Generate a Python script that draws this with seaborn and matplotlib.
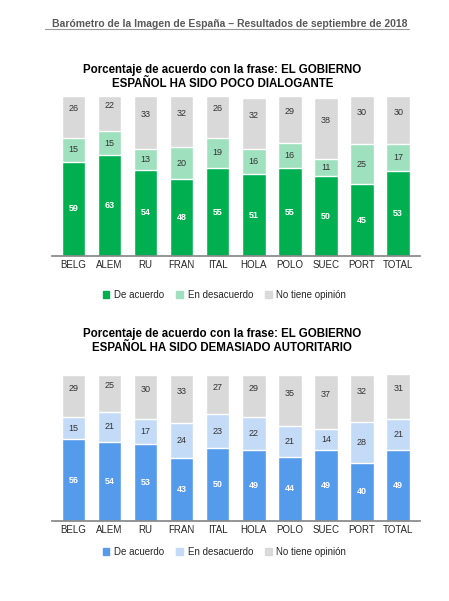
import numpy as np
import pandas as pd
import matplotlib
matplotlib.use('Agg')
import matplotlib.pyplot as plt
import seaborn as sns
from matplotlib.patches import Patch

paises = ['BELG', 'ALEM', 'RU', 'FRAN', 'ITAL', 'HOLA', 'POLO', 'SUEC', 'PORT', 'TOTAL']

# Poco dialogante
acuerdo1 = [59, 63, 54, 48, 55, 51, 55, 50, 45, 53]
desacuerdo1 = [15, 15, 13, 20, 19, 16, 16, 11, 25, 17]
opinion1 = [26, 22, 33, 32, 26, 32, 29, 38, 30, 30]

# Demasiado autoritario
acuerdo2 = [56, 54, 53, 43, 50, 49, 44, 49, 40, 49]
desacuerdo2 = [15, 21, 17, 24, 23, 22, 21, 14, 28, 21]
opinion2 = [29, 25, 30, 33, 27, 29, 35, 37, 32, 31]

leyenda = ['De acuerdo', 'En desacuerdo', 'No tiene opinión']

sns.set_theme(style='white')
plt.rcParams['font.family'] = ['Liberation Sans', 'DejaVu Sans']

fig = plt.figure(figsize=(4.49, 6.01), dpi=100)
fig.text(0.908, 0.960, 'Barómetro de la Imagen de España – Resultados de septiembre de 2018',
         ha='right', va='center', fontsize=7.5, color='#595959', fontweight='bold')
fig.add_artist(plt.Line2D([0.10, 0.91], [0.951, 0.951], color='#999999', lw=0.8))


def panel(rect, titulo, a, d, o, colores, ley_y, tit_y):
    ax = fig.add_axes(rect)
    df = pd.DataFrame({'pais': paises, 'a': a, 'd': d, 'o': o})
    df['ad'] = df['a'] + df['d']
    df['tot'] = df['ad'] + df['o']
    for col, c in [('tot', colores[2]), ('ad', colores[1]), ('a', colores[0])]:
        sns.barplot(data=df, x='pais', y=col, color=c, width=0.65, ax=ax,
                    edgecolor='white', linewidth=1, saturation=1)
    for i, r in df.iterrows():
        ax.text(i, r['a'] / 2, str(r['a']), ha='center', va='center', fontsize=6.5,
                color='white', fontweight='bold')
        ax.text(i, r['a'] + r['d'] / 2, str(r['d']), ha='center', va='center', fontsize=6.5, color='#333333')
        ax.text(i, r['ad'] + r['o'] / 2 + 5, str(r['o']), ha='center', va='center', fontsize=6.5, color='#333333')
    ax.set_ylim(0, 100)
    ax.set_xlim(-0.6, 9.6)
    ax.set_xlabel('')
    ax.set_ylabel('')
    ax.set_yticks([])
    for s in ['top', 'right', 'left']:
        ax.spines[s].set_visible(False)
    ax.spines['bottom'].set_color('#888888')
    ax.tick_params(axis='x', labelsize=7, pad=3, length=0)
    fig.text(0.495, tit_y, titulo, ha='center', va='center', fontsize=8.3, fontweight='bold', color='black')
    handles = [Patch(color=c) for c in colores]
    fig.legend(handles, leyenda, loc='center', bbox_to_anchor=(0.5, ley_y), ncol=3, frameon=False,
               fontsize=7, handlelength=0.7, handleheight=0.7, columnspacing=1.2, handletextpad=0.5)


panel([0.115, 0.574, 0.82, 0.266],
      'Porcentaje de acuerdo con la frase: EL GOBIERNO\nESPAÑOL HA SIDO POCO DIALOGANTE',
      acuerdo1, desacuerdo1, opinion1, ['#00B050', '#9FE0BF', '#D9D9D9'], 0.509, 0.872)
panel([0.115, 0.133, 0.82, 0.243],
      'Porcentaje de acuerdo con la frase: EL GOBIERNO\nESPAÑOL HA SIDO DEMASIADO AUTORITARIO',
      acuerdo2, desacuerdo2, opinion2, ['#559BEB', '#C4DBF7', '#D9D9D9'], 0.082, 0.432)

fig.savefig('out.png', dpi=100)
